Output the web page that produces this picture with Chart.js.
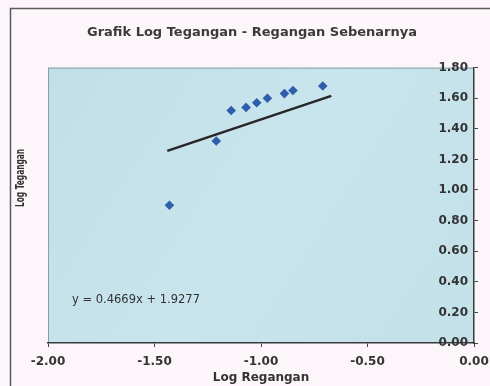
<!DOCTYPE html>
<html>
<head>
<meta charset="utf-8">
<script src="https://cdn.jsdelivr.net/npm/chart.js@4.4.1/dist/chart.umd.min.js"></script>
<style>
  html, body { margin: 0; padding: 0; background: #fcf6fa; }
  #wrap { width: 490px; height: 386px; }
</style>
</head>
<body>
<div id="wrap"><canvas id="c" width="490" height="386"></canvas></div>
<script>
// ---- data ----
const logRegangan = [-1.43, -1.21, -1.14, -1.07, -1.02, -0.97, -0.89, -0.85, -0.71];
const logTegangan = [0.90, 1.32, 1.52, 1.54, 1.57, 1.60, 1.63, 1.65, 1.68];
const trendSlope = 0.4669;
const trendIntercept = 1.9277;
const trendRange = [-1.44, -0.67];
const xTicks = [-2.00, -1.50, -1.00, -0.50, 0.00];
const yTicks = [0.00, 0.20, 0.40, 0.60, 0.80, 1.00, 1.20, 1.40, 1.60, 1.80];
const chartTitle = 'Grafik Log Tegangan - Regangan Sebenarnya';
const xTitle = 'Log Regangan';
const yTitle = 'Log Tegangan';
const equationText = 'y = 0.4669x + 1.9277';

const points = logRegangan.map((x, i) => ({ x: x, y: logTegangan[i] }));
const trendPoints = trendRange.map(x => ({ x: x, y: trendSlope * x + trendIntercept }));

const FONT = "'DejaVu Sans', 'Liberation Sans', Arial, sans-serif";

const decor = {
  id: 'decor',
  beforeDraw(chart) {
    const ctx = chart.ctx;
    const a = chart.chartArea;
    ctx.save();
    ctx.fillStyle = '#fcf6fa';
    ctx.fillRect(0, 0, chart.width, chart.height);
    // outer chart border
    ctx.strokeStyle = '#5a5a5a';
    ctx.lineWidth = 1.5;
    ctx.beginPath();
    ctx.moveTo(10.5, chart.height + 2);
    ctx.lineTo(10.5, 8.5);
    ctx.lineTo(chart.width + 2, 8.5);
    ctx.stroke();
    // plot area
    const g = ctx.createLinearGradient(a.left, a.top, a.right, a.bottom);
    g.addColorStop(0, '#c2dee9');
    g.addColorStop(0.5, '#c8e4ec');
    g.addColorStop(1, '#c3e1e9');
    ctx.fillStyle = g;
    ctx.fillRect(a.left, a.top, a.right - a.left, a.bottom - a.top);
    ctx.strokeStyle = '#8c9ca4';
    ctx.lineWidth = 1;
    ctx.strokeRect(a.left + 0.5, a.top + 0.5, a.right - a.left - 1, a.bottom - a.top - 1);
    ctx.restore();
  },
  afterDraw(chart) {
    const ctx = chart.ctx;
    ctx.save();
    // y axis title on the left side
    ctx.fillStyle = '#333';
    ctx.font = 'bold 12px ' + FONT;
    ctx.textAlign = 'center';
    ctx.textBaseline = 'middle';
    ctx.translate(21, 178);
    ctx.rotate(-Math.PI / 2);
    ctx.scale(0.62, 1);
    ctx.fillText(yTitle, 0, 0);
    ctx.restore();
    // trendline equation
    ctx.save();
    ctx.fillStyle = '#333';
    ctx.font = '11.5px ' + FONT;
    ctx.textAlign = 'left';
    ctx.textBaseline = 'middle';
    ctx.fillText(equationText, 72, 300);
    ctx.restore();
  }
};

new Chart(document.getElementById('c'), {
  type: 'scatter',
  data: {
    datasets: [
      {
        label: 'Log Tegangan',
        data: points,
        xAxisID: 'x',
        yAxisID: 'y',
        pointStyle: 'rectRot',
        pointRadius: 4.8,
        backgroundColor: '#2e5eab',
        borderColor: '#2e5eab',
        borderWidth: 0,
        order: 1
      },
      {
        label: 'Trend',
        type: 'line',
        data: trendPoints,
        xAxisID: 'x',
        yAxisID: 'y',
        borderColor: '#262626',
        borderWidth: 2.5,
        pointRadius: 0,
        fill: false,
        showLine: true,
        order: 2
      }
    ]
  },
  options: {
    responsive: false,
    animation: false,
    events: [],
    layout: { padding: { left: 14, top: 0, right: 0, bottom: 0 } },
    plugins: {
      legend: { display: false },
      tooltip: { enabled: false },
      title: {
        display: true,
        text: chartTitle,
        color: '#3a3a3a',
        font: { family: FONT, size: 13, weight: 'bold', lineHeight: 1.2 },
        padding: { top: 25, bottom: 27 }
      }
    },
    scales: {
      x: {
        type: 'linear',
        position: 'bottom',
        min: -2,
        max: 0,
        afterBuildTicks(scale) { scale.ticks = xTicks.map(v => ({ value: v })); },
        afterFit(scale) { scale.height = 43; scale.paddingRight = 0; scale.paddingLeft = 0; },
        ticks: {
          color: '#333',
          font: { family: FONT, size: 12, weight: 'bold' },
          padding: 8,
          maxRotation: 0,
          callback: v => Number(v).toFixed(2)
        },
        grid: { drawOnChartArea: false, drawTicks: true, tickLength: 4, color: '#444' },
        border: { display: true, color: '#3a3a3a', width: 1.5 },
        title: {
          display: true,
          text: xTitle,
          color: '#333',
          font: { family: FONT, size: 12, weight: 'bold', lineHeight: 1.2 },
          padding: { top: 0, bottom: 1 }
        }
      },
      yl: {
        type: 'linear',
        position: 'left',
        display: true,
        afterFit(scale) { scale.width = 34; scale.paddingTop = 0; scale.paddingBottom = 0; },
        ticks: { display: false },
        grid: { display: false, drawTicks: false },
        border: { display: false }
      },
      y: {
        type: 'linear',
        position: 'right',
        min: 0,
        max: 1.8,
        afterBuildTicks(scale) { scale.ticks = yTicks.map(v => ({ value: v })); },
        afterFit(scale) { scale.width = 16; },
        ticks: {
          mirror: true,
          padding: -6,
          color: '#333',
          font: { family: FONT, size: 12, weight: 'bold' },
          callback: v => Number(v).toFixed(2)
        },
        grid: { drawOnChartArea: false, drawTicks: true, tickLength: 4, color: '#444' },
        border: { display: true, color: '#3a3a3a', width: 1.5 }
      }
    }
  },
  plugins: [decor]
});
</script>
</body>
</html>
